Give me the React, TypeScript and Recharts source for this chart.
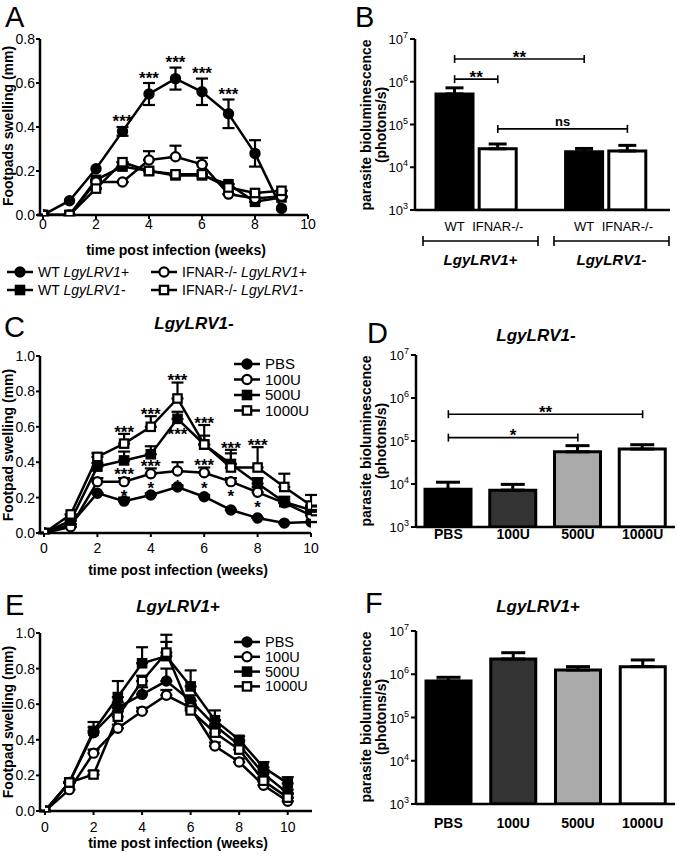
import React from 'react';
import {
  LineChart,
  Line,
  BarChart,
  Bar,
  Cell,
  XAxis,
  YAxis,
  ErrorBar,
  ReferenceDot,
  ReferenceLine
} from 'recharts';

const FONT = '"Liberation Sans", Arial, Helvetica, sans-serif';

// ---------- A: footpad swelling, WT vs IFNAR-/- ----------
const weeksA = [0, 1, 2, 3, 4, 5, 6, 7, 8, 9];
const wtLrvPos = [0, 0.065, 0.21, 0.38, 0.55, 0.62, 0.56, 0.46, 0.28, 0.03];
const wtLrvPosErr = [0, 0, 0, 0.02, 0.05, 0.05, 0.06, 0.065, 0.06, 0];
const wtLrvNeg = [0, 0, 0.16, 0.22, 0.2, 0.18, 0.18, 0.14, 0.06, 0.08];
const ifnLrvPos = [0, 0, 0.15, 0.15, 0.25, 0.265, 0.23, 0.095, 0.075, 0.085];
const ifnLrvPosErr = [0, 0, 0, 0, 0.04, 0.05, 0.03, 0, 0, 0];
const ifnLrvNeg = [0, 0, 0.12, 0.24, 0.2, 0.185, 0.185, 0.125, 0.1, 0.11];
const starsA = ['', '', '', '***', '***', '***', '***', '***', '', ''];

// ---------- C / E: IFN treatment, weeks 0-10 ----------
const weeksCE = [0, 1, 2, 3, 4, 5, 6, 7, 8, 9, 10];
const treatLabels = ['PBS', '100U', '500U', '1000U'];

const pbsC = [0, 0.05, 0.225, 0.18, 0.215, 0.26, 0.205, 0.13, 0.085, 0.056, 0.062];
const pbsCErr = [0, 0, 0, 0.02, 0.01, 0.01, 0.01, 0, 0, 0, 0];
const u100C = [0, 0.035, 0.29, 0.29, 0.335, 0.35, 0.34, 0.29, 0.23, 0.17, 0.1];
const u100CErr = [0, 0, 0.02, 0.02, 0.03, 0.05, 0.03, 0.02, 0.03, 0.02, 0.02];
const u500C = [0, 0.07, 0.375, 0.41, 0.445, 0.645, 0.5, 0.39, 0.28, 0.175, 0.13];
const u500CErr = [0, 0, 0.02, 0.05, 0.045, 0.04, 0.05, 0.06, 0.03, 0.03, 0.02];
const u1000C = [0, 0.105, 0.43, 0.505, 0.6, 0.76, 0.5, 0.37, 0.37, 0.26, 0.155];
const u1000CErr = [0, 0, 0.02, 0.055, 0.06, 0.09, 0.11, 0.1, 0.115, 0.075, 0.06];
const notesC = [
  { key: 'u1000', week: 3, text: '***', side: 'above' },
  { key: 'u1000', week: 4, text: '***', side: 'above' },
  { key: 'u1000', week: 5, text: '***', side: 'above' },
  { key: 'u1000', week: 6, text: '***', side: 'above' },
  { key: 'u1000', week: 7, text: '***', side: 'above' },
  { key: 'u1000', week: 8, text: '***', side: 'above' },
  { key: 'u100', week: 3, text: '***', side: 'above' },
  { key: 'u100', week: 4, text: '***', side: 'above' },
  { key: 'u100', week: 6, text: '***', side: 'above' },
  { key: 'u500', week: 5, text: '***', side: 'below' },
  { key: 'u100', week: 3, text: '*', side: 'below' },
  { key: 'u100', week: 4, text: '*', side: 'below' },
  { key: 'u100', week: 5, text: '*', side: 'below' },
  { key: 'u100', week: 6, text: '*', side: 'below' },
  { key: 'u100', week: 7, text: '*', side: 'below' },
  { key: 'u100', week: 8, text: '*', side: 'below' }
];

const pbsE = [0, 0.16, 0.44, 0.58, 0.655, 0.73, 0.62, 0.48, 0.37, 0.21, 0.1];
const pbsEErr = [0, 0, 0.03, 0.03, 0.04, 0.07, 0.03, 0.03, 0.02, 0.02, 0.02];
const u100E = [0, 0.12, 0.325, 0.465, 0.56, 0.65, 0.58, 0.365, 0.275, 0.145, 0.055];
const u100EErr = [0, 0, 0.02, 0.02, 0.02, 0.03, 0.02, 0.02, 0.02, 0.02, 0.02];
const u500E = [0, 0.16, 0.45, 0.64, 0.83, 0.87, 0.7, 0.51, 0.4, 0.245, 0.155];
const u500EErr = [0, 0, 0.05, 0.09, 0.09, 0.08, 0.09, 0.055, 0.02, 0.03, 0.035];
const u1000E = [0, 0.16, 0.205, 0.53, 0.73, 0.89, 0.565, 0.44, 0.345, 0.17, 0.075];
const u1000EErr = [0, 0, 0.02, 0.03, 0.03, 0.1, 0.03, 0.03, 0.02, 0.02, 0.02];

// ---------- B / D / F: bioluminescence (photons/s) ----------
const catB = ['wtPos', 'ifnPos', 'gap', 'wtNeg', 'ifnNeg'];
const labelsB = ['WT', 'IFNAR-/-', '', 'WT', 'IFNAR-/-'];
const valuesB = [5.2e5, 2.7e4, null, 2.3e4, 2.4e4];
const errB = [2e5, 8e3, null, 4.5e3, 8.5e3];
const fillsB = ['#000', '#fff', '#fff', '#000', '#fff'];
const groupsB = ['LgyLRV1+', 'LgyLRV1-'];
const bracketsB = [
  { from: 'wtPos', to: 'wtNeg', level: 3.4e6, text: '**' },
  { from: 'wtPos', to: 'ifnPos', level: 1.15e6, text: '**' },
  { from: 'ifnPos', to: 'ifnNeg', level: 7.9e4, text: 'ns' }
];

const valuesD = [7.5e3, 7.2e3, 5.6e4, 6.5e4];
const errD = [3.5e3, 2.6e3, 2.2e4, 1.7e4];
const bracketsD = [
  { from: 'PBS', to: '1000U', level: 4.2e5, text: '**' },
  { from: 'PBS', to: '500U', level: 1.2e5, text: '*' }
];
const valuesF = [7.0e5, 2.25e6, 1.25e6, 1.5e6];
const errF = [1.5e5, 0.9e6, 0.25e6, 0.64e6];
const fillsDF = ['#000', '#333', '#aaa', '#fff'];

const logTicks = [1e3, 1e4, 1e5, 1e6, 1e7];

// ---------- shared pieces ----------
const Marker = ({ cx, cy, shape, filled }: any) => {
  if (cx == null || cy == null || Number.isNaN(cy)) return null;
  const fill = filled ? '#000' : '#fff';
  return shape === 'circle' ? (
    <circle cx={cx} cy={cy} r={4.6} fill={fill} stroke="#000" strokeWidth={2.2} />
  ) : (
    <rect x={cx - 4.2} y={cy - 4.2} width={8.4} height={8.4} fill={fill} stroke="#000" strokeWidth={2.2} />
  );
};

// asterisks sit high in the em box, so shift the baseline to centre them on the target
const NoteText = ({ x, center, text, size }: any) => (
  <text
    x={x}
    y={center + (text.includes('*') ? 0.57 * size : 0.27 * size)}
    textAnchor="middle"
    fontFamily={FONT}
    fontWeight="bold"
    fontSize={size}
  >
    {text}
  </text>
);

const PowTick = ({ x, y, payload }: any) => (
  <text x={x} y={y + 5} textAnchor="end" fontFamily={FONT} fontSize={13} fill="#000">
    10<tspan dy={-6} fontSize={9}>{Math.round(Math.log10(payload.value))}</tspan>
  </text>
);

const Bracket = ({ x1, y1, x2, text }: any) => (
  <g>
    <line x1={x1} y1={y1} x2={x2} y2={y1} stroke="#000" strokeWidth={1.6} />
    <line x1={x1} y1={y1 - 4} x2={x1} y2={y1 + 4} stroke="#000" strokeWidth={1.6} />
    <line x1={x2} y1={y1 - 4} x2={x2} y2={y1 + 4} stroke="#000" strokeWidth={1.6} />
    <NoteText x={(x1 + x2) / 2} center={y1 - 6} text={text} size={text === 'ns' ? 13 : 17} />
  </g>
);

const axisLine = { stroke: '#000', strokeWidth: 2.5 };
const tickLine = { stroke: '#000', strokeWidth: 2 };

type Series = {
  key: string;
  shape: 'circle' | 'square';
  filled: boolean;
  values: number[];
  err?: number[];
  both?: boolean;
};

const SwellingChart = ({
  weeks, series, notes, width, height, margin, xH, yMax, yTicks, xMax, xPad, xTickGap, minErr, gap
}: any) => {
  const rows = weeks.map((w: number, i: number) => {
    const r: any = { week: w };
    series.forEach((s: Series) => {
      const e = s.err ? s.err[i] : 0;
      r[s.key] = s.values[i];
      r[s.key + 'Err'] = s.both ? e : [0, e];
    });
    return r;
  });
  const byKey: any = {};
  series.forEach((s: Series) => (byKey[s.key] = s));

  return (
    <LineChart width={width} height={height} data={rows} margin={margin}>
      <XAxis
        dataKey="week"
        type="number"
        domain={[0, xMax]}
        ticks={[0, 2, 4, 6, 8, 10]}
        padding={{ left: xPad, right: 0 }}
        axisLine={axisLine}
        tickLine={tickLine}
        tickSize={4}
        tickMargin={xTickGap}
        tick={{ fontFamily: FONT, fontSize: 14, fill: '#000' }}
        height={xH}
        allowDataOverflow
      />
      <YAxis
        type="number"
        domain={[0, yMax]}
        ticks={yTicks}
        tickFormatter={(v: number) => v.toFixed(1)}
        axisLine={axisLine}
        tickLine={tickLine}
        tickSize={4}
        tickMargin={1}
        width={40}
        tick={{ fontFamily: FONT, fontSize: 14, fill: '#000' }}
        allowDataOverflow
      />
      {series.map((s: Series) => (
        <Line
          key={s.key}
          dataKey={s.key}
          type="linear"
          stroke="#000"
          strokeWidth={2.5}
          isAnimationActive={false}
          activeDot={false}
          dot={(p: any) => (
            <Marker key={`${s.key}-${p.index}`} cx={p.cx} cy={p.cy} shape={s.shape} filled={s.filled} />
          )}
        >
          <ErrorBar dataKey={s.key + 'Err'} direction="y" width={6} stroke="#000" strokeWidth={2.2} />
        </Line>
      ))}
      {notes.map((n: any, i: number) => {
        const s = byKey[n.key];
        const idx = weeks.indexOf(n.week);
        const e = s.err ? s.err[idx] : 0;
        const yv = n.side === 'above' ? s.values[idx] + Math.max(e, minErr) : s.values[idx];
        return (
          <ReferenceDot
            key={`note-${i}`}
            x={n.week}
            y={yv}
            r={0}
            ifOverflow="visible"
            shape={(p: any) => (
              <NoteText
                x={p.cx}
                center={n.side === 'above' ? p.cy - gap : p.cy + 11}
                text={n.text}
                size={17}
              />
            )}
          />
        );
      })}
    </LineChart>
  );
};

const BiolumChart = ({
  cats, labels, values, errs, fills, brackets, width, height, margin, xH, yWidth, barSize, pad, capW, tickFont, tickGap
}: any) => {
  const rows = cats.map((c: string, i: number) => ({
    id: c,
    value: values[i],
    err: errs[i] == null ? null : [0, errs[i]]
  }));
  return (
    <BarChart width={width} height={height} data={rows} margin={margin} barCategoryGap={0}>
      <XAxis
        dataKey="id"
        interval={0}
        tickFormatter={(v: string) => labels[cats.indexOf(v)]}
        axisLine={axisLine}
        tickLine={false}
        tickSize={0}
        tickMargin={tickGap}
        padding={pad}
        height={xH}
        tick={{ fontFamily: FONT, fill: '#000', ...tickFont }}
      />
      <YAxis
        type="number"
        scale="log"
        domain={[1e3, 1e7]}
        ticks={logTicks}
        allowDataOverflow
        axisLine={axisLine}
        tickLine={tickLine}
        tickSize={5}
        tickMargin={2}
        width={yWidth}
        tick={(p: any) => <PowTick {...p} />}
      />
      <Bar dataKey="value" barSize={barSize} stroke="#000" strokeWidth={3} isAnimationActive={false}>
        {rows.map((r: any, i: number) => (
          <Cell key={r.id} fill={fills[i]} />
        ))}
        <ErrorBar dataKey="err" direction="y" width={capW} stroke="#000" strokeWidth={3} />
      </Bar>
      {brackets.map((b: any, i: number) => (
        <ReferenceLine
          key={`br-${i}`}
          segment={[
            { x: b.from, y: b.level },
            { x: b.to, y: b.level }
          ]}
          ifOverflow="visible"
          shape={(p: any) => <Bracket x1={p.x1} y1={p.y1} x2={p.x2} text={b.text} />}
        />
      ))}
    </BarChart>
  );
};

const seriesA: Series[] = [
  { key: 'wtPos', shape: 'circle', filled: true, values: wtLrvPos, err: wtLrvPosErr, both: true },
  { key: 'wtNeg', shape: 'square', filled: true, values: wtLrvNeg },
  { key: 'ifnPos', shape: 'circle', filled: false, values: ifnLrvPos, err: ifnLrvPosErr },
  { key: 'ifnNeg', shape: 'square', filled: false, values: ifnLrvNeg }
];
const legendA = [
  { pre: 'WT ', it: 'LgyLRV1+', s: seriesA[0] },
  { pre: 'WT ', it: 'LgyLRV1-', s: seriesA[1] },
  { pre: 'IFNAR-/- ', it: 'LgyLRV1+', s: seriesA[2] },
  { pre: 'IFNAR-/- ', it: 'LgyLRV1-', s: seriesA[3] }
];
const notesA = starsA
  .map((t, i) => ({ key: 'wtPos', week: weeksA[i], text: t, side: 'above' }))
  .filter((n) => n.text);

const seriesC: Series[] = [
  { key: 'pbs', shape: 'circle', filled: true, values: pbsC, err: pbsCErr },
  { key: 'u100', shape: 'circle', filled: false, values: u100C, err: u100CErr },
  { key: 'u500', shape: 'square', filled: true, values: u500C, err: u500CErr },
  { key: 'u1000', shape: 'square', filled: false, values: u1000C, err: u1000CErr }
];
const seriesE: Series[] = [
  { key: 'pbs', shape: 'circle', filled: true, values: pbsE, err: pbsEErr },
  { key: 'u100', shape: 'circle', filled: false, values: u100E, err: u100EErr },
  { key: 'u500', shape: 'square', filled: true, values: u500E, err: u500EErr },
  { key: 'u1000', shape: 'square', filled: false, values: u1000E, err: u1000EErr }
];

const LegendItem = ({ x, y, s, size, children }: any) => (
  <g>
    <line x1={x - 13} y1={y} x2={x + 13} y2={y} stroke="#000" strokeWidth={2.5} />
    <Marker cx={x} cy={y} shape={s.shape} filled={s.filled} />
    <text x={x + 18} y={y + 5} fontFamily={FONT} fontSize={size || 15} fill="#000">
      {children}
    </text>
  </g>
);

const boldTitle = { fontFamily: FONT, fontWeight: 'bold' as const, fontSize: 14, fill: '#000' };
const italicTitle = { fontFamily: FONT, fontWeight: 'bold' as const, fontStyle: 'italic' as const, fontSize: 17, fill: '#000' };
const letter = { fontFamily: FONT, fontSize: 29, fill: '#000' };

const Overlay = () => (
  <svg width={677} height={857} style={{ position: 'absolute', left: 0, top: 0, pointerEvents: 'none' }}>
    {/* panel letters */}
    <text x={5} y={27} {...letter}>A</text>
    <text x={355} y={27} {...letter}>B</text>
    <text x={4} y={337} {...letter}>C</text>
    <text x={367} y={343} {...letter}>D</text>
    <text x={5} y={615} {...letter}>E</text>
    <text x={365} y={613} {...letter}>F</text>

    {/* panel titles */}
    <text x={194} y={329} textAnchor="middle" {...italicTitle}>{groupsB[1]}</text>
    <text x={536} y={341} textAnchor="middle" {...italicTitle}>{groupsB[1]}</text>
    <text x={178} y={612} textAnchor="middle" {...italicTitle}>{groupsB[0]}</text>
    <text x={538} y={612} textAnchor="middle" {...italicTitle}>{groupsB[0]}</text>

    {/* swelling axis titles */}
    <text x={13} y={126} textAnchor="middle" transform="rotate(-90 13 126)" {...boldTitle}>Footpads swelling (mm)</text>
    <text x={13} y={445} textAnchor="middle" transform="rotate(-90 13 445)" {...boldTitle}>Footpad swelling (mm)</text>
    <text x={13} y={722} textAnchor="middle" transform="rotate(-90 13 722)" {...boldTitle}>Footpad swelling (mm)</text>
    <text x={176} y={255} textAnchor="middle" {...boldTitle}>time post infection (weeks)</text>
    <text x={178} y={575} textAnchor="middle" {...boldTitle}>time post infection (weeks)</text>
    <text x={178} y={848} textAnchor="middle" {...boldTitle}>time post infection (weeks)</text>

    {/* bioluminescence axis titles */}
    {[125, 441, 717].map((cy) => (
      <g key={cy}>
        <text x={371} y={cy} textAnchor="middle" transform={`rotate(-90 371 ${cy})`} {...boldTitle}>parasite bioluminescence</text>
        <text x={386} y={cy} textAnchor="middle" transform={`rotate(-90 386 ${cy})`} {...boldTitle}>(photons/s)</text>
      </g>
    ))}

    {/* group brackets under B */}
    {[
      [423, 538],
      [554, 669]
    ].map(([a, b], i) => (
      <g key={i}>
        <line x1={a} y1={241} x2={b} y2={241} stroke="#000" strokeWidth={1.6} />
        <line x1={a} y1={236} x2={a} y2={246} stroke="#000" strokeWidth={1.6} />
        <line x1={b} y1={236} x2={b} y2={246} stroke="#000" strokeWidth={1.6} />
        <text x={(a + b) / 2} y={265} textAnchor="middle" {...italicTitle} fontSize={15}>
          {groupsB[i]}
        </text>
      </g>
    ))}

    {/* legend A */}
    {legendA.map((l, i) => (
      <LegendItem key={i} x={i < 2 ? 20 : 164} y={i % 2 === 0 ? 272 : 290} s={l.s} size={14}>
        {l.pre}
        <tspan fontStyle="italic">{l.it}</tspan>
      </LegendItem>
    ))}

    {/* legends C and E */}
    {seriesC.map((s, i) => (
      <LegendItem key={`c${i}`} x={247} y={364 + i * 15.5} s={s} size={15}>{treatLabels[i]}</LegendItem>
    ))}
    {seriesE.map((s, i) => (
      <LegendItem key={`e${i}`} x={247} y={642 + i * 14.8} s={s} size={14.5}>{treatLabels[i]}</LegendItem>
    ))}
  </svg>
);

export default function App() {
  return (
    <div style={{ position: 'absolute', left: 0, top: 0, width: 677, height: 857, background: '#fff' }}>
      <div style={{ position: 'absolute', left: 0, top: 0 }}>
        <SwellingChart
          weeks={weeksA}
          series={seriesA}
          notes={notesA}
          width={340}
          height={235}
          margin={{ top: 39, right: 32, bottom: 0, left: 0 }}
          xH={20}
          yMax={0.8}
          yTicks={[0, 0.2, 0.4, 0.6, 0.8]}
          xMax={10}
          xPad={3}
          xTickGap={0}
          minErr={0.025}
          gap={9}
        />
      </div>
      <div style={{ position: 'absolute', left: 340, top: 0 }}>
        <BiolumChart
          cats={catB}
          labels={labelsB}
          values={valuesB}
          errs={errB}
          fills={fillsB}
          brackets={bracketsB}
          width={337}
          height={240}
          margin={{ top: 39, right: 7, bottom: 0, left: 0 }}
          xH={30}
          yWidth={75}
          barSize={37}
          pad={{ left: 18, right: 21 }}
          capW={9}
          tickFont={{ fontSize: 13 }}
          tickGap={12}
        />
      </div>
      <div style={{ position: 'absolute', left: 0, top: 300 }}>
        <SwellingChart
          weeks={weeksCE}
          series={seriesC}
          notes={notesC}
          width={340}
          height={258}
          margin={{ top: 56, right: 29, bottom: 0, left: 0 }}
          xH={25}
          yMax={1.0}
          yTicks={[0, 0.2, 0.4, 0.6, 0.8, 1.0]}
          xMax={10}
          xPad={4}
          xTickGap={6}
          minErr={0.03}
          gap={6}
        />
      </div>
      <div style={{ position: 'absolute', left: 340, top: 300 }}>
        <BiolumChart
          cats={treatLabels}
          labels={treatLabels}
          values={valuesD}
          errs={errD}
          fills={fillsDF}
          brackets={bracketsD}
          width={337}
          height={245}
          margin={{ top: 55, right: 2, bottom: 0, left: 0 }}
          xH={18}
          yWidth={76}
          barSize={46}
          pad={{ left: 0, right: 0 }}
          capW={12}
          tickFont={{ fontSize: 14, fontWeight: 'bold' }}
          tickGap={2}
        />
      </div>
      <div style={{ position: 'absolute', left: 0, top: 580 }}>
        <SwellingChart
          weeks={weeksCE}
          series={seriesE}
          notes={[]}
          width={340}
          height={256}
          margin={{ top: 53, right: 28, bottom: 0, left: 0 }}
          xH={25}
          yMax={1.0}
          yTicks={[0, 0.2, 0.4, 0.6, 0.8, 1.0]}
          xMax={11}
          xPad={5}
          xTickGap={7}
          minErr={0.03}
          gap={6}
        />
      </div>
      <div style={{ position: 'absolute', left: 340, top: 580 }}>
        <BiolumChart
          cats={treatLabels}
          labels={treatLabels}
          values={valuesF}
          errs={errF}
          fills={fillsDF}
          brackets={[]}
          width={337}
          height={260}
          margin={{ top: 51, right: 2, bottom: 0, left: 0 }}
          xH={36}
          yWidth={76}
          barSize={45}
          pad={{ left: 0, right: 0 }}
          capW={12}
          tickFont={{ fontSize: 14, fontWeight: 'bold' }}
          tickGap={14}
        />
      </div>
      <Overlay />
    </div>
  );
}
